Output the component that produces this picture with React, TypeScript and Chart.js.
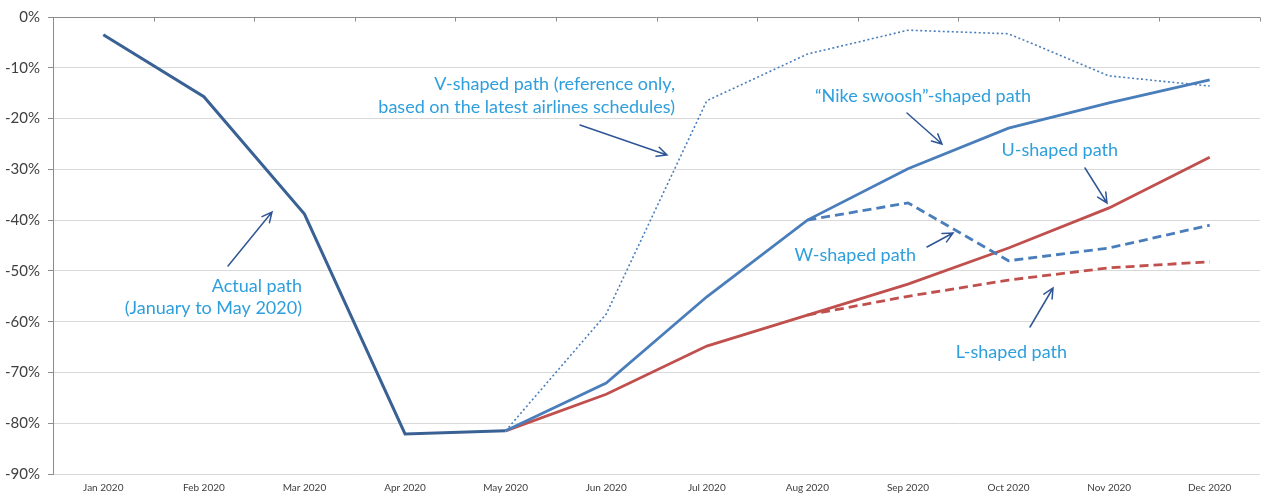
import React, { useEffect, useRef } from "react";
import { Chart, registerables } from "chart.js";

Chart.register(...registerables);

const months = [
  "Jan 2020", "Feb 2020", "Mar 2020", "Apr 2020", "May 2020", "Jun 2020",
  "Jul 2020", "Aug 2020", "Sep 2020", "Oct 2020", "Nov 2020", "Dec 2020",
];

const actualPath = [-3.5, -15.7, -38.8, -82.1, -81.5, null, null, null, null, null, null, null];
const vShapedPath = [null, null, null, null, -81.5, -58.5, -16.5, -7.3, -2.6, -3.3, -11.6, -13.6];
const nikeSwooshPath = [null, null, null, null, -81.5, -72.1, -55.1, -40.0, -29.9, -21.9, -16.9, -12.4];
const wShapedPath = [null, null, null, null, null, null, null, -40.0, -36.6, -48.0, -45.5, -41.0];
const uShapedPath = [null, null, null, null, -81.5, -74.3, -64.8, -58.7, -52.6, -45.5, -37.6, -27.6];
const lShapedPath = [null, null, null, null, null, null, null, -58.7, -55.0, -51.8, -49.4, -48.2];

const yTicksMin = -90;
const yTicksMax = 0;
const yTickStep = 10;

const annotationLabels = [
  { lines: ["Actual path", "(January to May 2020)"], right: 302, ys: [286, 308] },
  { lines: ["V-shaped path (reference only,", "based on the latest airlines schedules)"], right: 675, ys: [84, 107] },
  { lines: ["\u201CNike swoosh\u201D-shaped path"], right: 1031, ys: [96] },
  { lines: ["U-shaped path"], right: 1118, ys: [150] },
  { lines: ["W-shaped path"], right: 916, ys: [255] },
  { lines: ["L-shaped path"], right: 1067, ys: [352] },
];

const annotationArrows = [
  { from: [228, 266], to: [272, 212] },
  { from: [580, 125], to: [667, 155] },
  { from: [907, 113], to: [942, 144] },
  { from: [1085, 168], to: [1107, 203] },
  { from: [927, 247], to: [953, 233] },
  { from: [1030, 327], to: [1053, 288] },
];

const FONT = "Lato, 'Open Sans', sans-serif";

const annotationPlugin = {
  id: "annotations",
  afterDraw(chart: any) {
    const ctx = chart.ctx as CanvasRenderingContext2D;
    const x = chart.scales.x;
    const area = chart.chartArea;
    ctx.save();
    // horizontal axis line at 0% with tick marks at category boundaries
    ctx.strokeStyle = "#8c8c8c";
    ctx.lineWidth = 1;
    const yTop = Math.round(area.top) + 0.5;
    ctx.beginPath();
    ctx.moveTo(area.left, yTop);
    ctx.lineTo(area.right, yTop);
    const n = months.length;
    const half = (x.getPixelForValue(1) - x.getPixelForValue(0)) / 2;
    for (let i = 0; i <= n; i++) {
      const px = i < n ? x.getPixelForValue(i) - half : area.right;
      const rx = Math.round(px) + 0.5;
      ctx.moveTo(rx, yTop);
      ctx.lineTo(rx, yTop + 4);
    }
    ctx.stroke();

    // arrows
    ctx.strokeStyle = "#2f5597";
    ctx.lineWidth = 1.5;
    ctx.lineCap = "round";
    for (const a of annotationArrows) {
      const [x1, y1] = a.from;
      const [x2, y2] = a.to;
      const ang = Math.atan2(y2 - y1, x2 - x1);
      const hl = 11;
      const spread = 0.45;
      ctx.beginPath();
      ctx.moveTo(x1, y1);
      ctx.lineTo(x2, y2);
      ctx.moveTo(x2 - hl * Math.cos(ang - spread), y2 - hl * Math.sin(ang - spread));
      ctx.lineTo(x2, y2);
      ctx.lineTo(x2 - hl * Math.cos(ang + spread), y2 - hl * Math.sin(ang + spread));
      ctx.stroke();
    }

    // labels
    ctx.fillStyle = "#2e9fdc";
    ctx.textAlign = "right";
    ctx.textBaseline = "middle";
    ctx.font = `18px ${FONT}`;
    for (const l of annotationLabels) {
      l.lines.forEach((t, i) => ctx.fillText(t, l.right, l.ys[i]));
    }
    ctx.restore();
  },
};

export default function App() {
  const ref = useRef<HTMLCanvasElement | null>(null);

  useEffect(() => {
    if (!ref.current) return;
    const dark = "#3a6193";
    const blue = "#4a7ebb";
    const red = "#c0504d";
    const common = { pointRadius: 0, pointHoverRadius: 0, tension: 0, fill: false, spanGaps: false };
    const chart = new Chart(ref.current, {
      type: "line",
      data: {
        labels: months,
        datasets: [
          { ...common, label: "V-shaped", data: vShapedPath, borderColor: blue, borderWidth: 1.6, borderDash: [2, 2.5] },
          { ...common, label: "Nike swoosh", data: nikeSwooshPath, borderColor: blue, borderWidth: 2.8 },
          { ...common, label: "W-shaped", data: wShapedPath, borderColor: blue, borderWidth: 2.8, borderDash: [9, 5] },
          { ...common, label: "L-shaped", data: lShapedPath, borderColor: red, borderWidth: 2.8, borderDash: [9, 5] },
          { ...common, label: "U-shaped", data: uShapedPath, borderColor: red, borderWidth: 2.8 },
          { ...common, label: "Actual", data: actualPath, borderColor: dark, borderWidth: 3 },
        ] as any,
      },
      options: {
        animation: false,
        responsive: true,
        maintainAspectRatio: false,
        layout: { padding: { top: 17, right: 2, left: 0, bottom: 0 } },
        plugins: { legend: { display: false }, tooltip: { enabled: false } },
        scales: {
          x: {
            type: "category",
            offset: true,
            grid: { display: false, drawTicks: false },
            border: { display: false },
            ticks: {
              autoSkip: false,
              maxRotation: 0,
              padding: 8,
              color: "#404040",
              font: { family: FONT, size: 10 },
            },
            afterFit: (s: any) => { s.height = 21; },
          },
          y: {
            min: yTicksMin,
            max: yTicksMax,
            grid: { color: "#d9d9d9", tickColor: "#8c8c8c", tickLength: 5 },
            border: { display: true, color: "#8c8c8c" },
            ticks: {
              stepSize: yTickStep,
              padding: 8,
              color: "#404040",
              font: { family: FONT, size: 15 },
              callback: (v: any) => `${v}%`,
            },
            afterFit: (s: any) => { s.width = 53; },
          },
        },
      },
      plugins: [annotationPlugin],
    });
    return () => chart.destroy();
  }, []);

  return (
    <div style={{ position: "absolute", left: 0, top: 0, width: 1262, height: 495, background: "#fff" }}>
      <canvas ref={ref} style={{ display: "block" }} />
    </div>
  );
}
